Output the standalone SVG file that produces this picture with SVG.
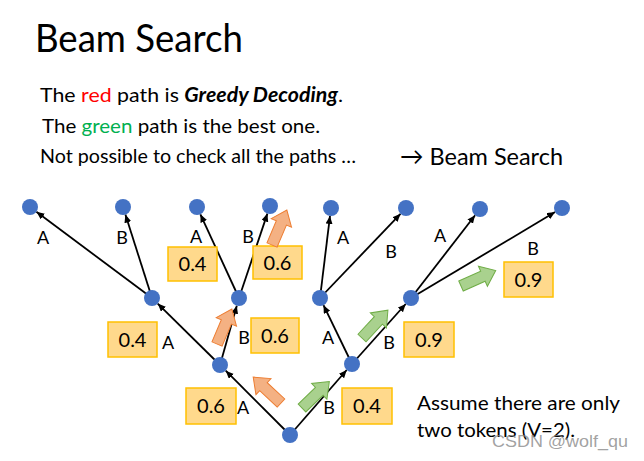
<svg xmlns="http://www.w3.org/2000/svg" width="644" height="461" viewBox="0 0 644 461">
<style>
.t{font-family:Lato,"Open Sans","Liberation Sans",sans-serif;fill:#000}
.lbl{font-family:Lato,"Open Sans","Liberation Sans",sans-serif;font-size:18px;fill:#000;text-anchor:middle}
.num{font-family:Lato,"Open Sans","Liberation Sans",sans-serif;font-size:20px;fill:#000;text-anchor:middle}
.box{fill:#FFD98C;stroke:#FFC000;stroke-width:1.5}
.node{fill:#4472C4}
.edge{stroke:#000;stroke-width:1.8;fill:none;marker-end:url(#ah)}
.orange{fill:#F4B183;stroke:#ED7D31;stroke-width:1}
.green{fill:#A9D18E;stroke:#70AD47;stroke-width:1}
</style>
<defs>
<marker id="ah" markerUnits="userSpaceOnUse" markerWidth="9" markerHeight="8" refX="8" refY="3.5" orient="auto">
<path d="M0,0 L8,3.5 L0,7 z" fill="#000"/>
</marker>
<path id="blk" d="M0,-5.5 H24 V-11 L38,0 L24,11 V5.5 H0 Z"/>
</defs>
<rect width="644" height="461" fill="#fff"/>
<g id="title">
<text class="t" x="35" y="52" font-size="38" textLength="208" lengthAdjust="spacingAndGlyphs">Beam Search</text>
</g>
<g id="desc">
<text class="t" x="40" y="102" font-size="20" textLength="303" lengthAdjust="spacingAndGlyphs">The <tspan fill="#FF0000">red</tspan> path is <tspan font-weight="bold" font-style="italic">Greedy Decoding</tspan>.</text>
<text class="t" x="42" y="133" font-size="20" textLength="278" lengthAdjust="spacingAndGlyphs">The <tspan fill="#00B050">green</tspan> path is the best one.</text>
<text class="t" x="40" y="163" font-size="20" textLength="316" lengthAdjust="spacingAndGlyphs">Not possible to check all the paths …</text>
<text class="t" x="400" y="165" font-size="24" textLength="163" lengthAdjust="spacingAndGlyphs">→ Beam Search</text>
</g>
<g id="connectors">
<line class="edge" x1="290" y1="435" x2="225.7" y2="370.7"/>
<line class="edge" x1="290" y1="435" x2="346.7" y2="370"/>
<line class="edge" x1="220" y1="365" x2="157.7" y2="303.6"/>
<line class="edge" x1="220" y1="365" x2="236.8" y2="305.7"/>
<line class="edge" x1="352" y1="364" x2="323.5" y2="305.2"/>
<line class="edge" x1="352" y1="364" x2="405.7" y2="304"/>
<line class="edge" x1="152" y1="298" x2="36.4" y2="211.8"/>
<line class="edge" x1="152" y1="298" x2="125.4" y2="214.6"/>
<line class="edge" x1="239" y1="298" x2="200.4" y2="214.3"/>
<line class="edge" x1="239" y1="298" x2="267.4" y2="213.6"/>
<line class="edge" x1="320" y1="298" x2="330" y2="215.9"/>
<line class="edge" x1="320" y1="298" x2="400.5" y2="213.8"/>
<line class="edge" x1="411" y1="298" x2="475.1" y2="215.3"/>
<line class="edge" x1="411" y1="298" x2="555.1" y2="212.1"/>
</g>
<g id="edge-labels">
<text class="lbl" x="43" y="244">A</text>
<text class="lbl" x="122" y="244">B</text>
<text class="lbl" x="196" y="243">A</text>
<text class="lbl" x="248" y="243">B</text>
<text class="lbl" x="343" y="244">A</text>
<text class="lbl" x="391" y="258">B</text>
<text class="lbl" x="440" y="242">A</text>
<text class="lbl" x="533" y="255">B</text>
<text class="lbl" x="168" y="349">A</text>
<text class="lbl" x="244" y="344">B</text>
<text class="lbl" x="328" y="344">A</text>
<text class="lbl" x="389" y="349">B</text>
<text class="lbl" x="243" y="414">A</text>
<text class="lbl" x="329" y="414">B</text>
</g>
<g id="scores">
<rect class="box" x="168" y="247" width="49" height="34"/><text class="num" x="192.5" y="271">0.4</text>
<rect class="box" x="253" y="246" width="49" height="33"/><text class="num" x="277.5" y="269.5">0.6</text>
<rect class="box" x="504" y="262" width="49" height="35"/><text class="num" x="528.5" y="286.5">0.9</text>
<rect class="box" x="108" y="322" width="49" height="35"/><text class="num" x="132.5" y="346.5">0.4</text>
<rect class="box" x="251" y="318" width="48" height="35"/><text class="num" x="275" y="342.5">0.6</text>
<rect class="box" x="404" y="322" width="50" height="35"/><text class="num" x="429" y="346.5">0.9</text>
<rect class="box" x="186" y="388" width="50" height="36"/><text class="num" x="211" y="413">0.6</text>
<rect class="box" x="342" y="388" width="50" height="36"/><text class="num" x="367" y="413">0.4</text>
</g>
<g id="block-arrows">
<use href="#blk" class="orange" transform="translate(272,245) rotate(-67)"/>
<use href="#blk" class="orange" transform="translate(217,344) rotate(-67)"/>
<use href="#blk" class="orange" transform="translate(281,403) rotate(-137)"/>
<use href="#blk" class="green" transform="translate(302,408) rotate(-44)"/>
<use href="#blk" class="green" transform="translate(362,338) rotate(-47)"/>
<use href="#blk" class="green" transform="translate(461,286) rotate(-24)"/>
</g>
<g id="n-root"><circle class="node" cx="290" cy="435" r="8"/></g>
<g id="n-A"><circle class="node" cx="220" cy="365" r="8"/></g>
<g id="n-B"><circle class="node" cx="352" cy="364" r="8"/></g>
<g id="n-AA"><circle class="node" cx="152" cy="298" r="8"/></g>
<g id="n-AB"><circle class="node" cx="239" cy="298" r="8"/></g>
<g id="n-BA"><circle class="node" cx="320" cy="298" r="8"/></g>
<g id="n-BB"><circle class="node" cx="411" cy="298" r="8"/></g>
<g id="n-AAA"><circle class="node" cx="30" cy="207" r="8"/></g>
<g id="n-AAB"><circle class="node" cx="123" cy="207" r="8"/></g>
<g id="n-ABA"><circle class="node" cx="197" cy="207" r="8"/></g>
<g id="n-ABB"><circle class="node" cx="270" cy="206" r="8"/></g>
<g id="n-BAA"><circle class="node" cx="331" cy="208" r="8"/></g>
<g id="n-BAB"><circle class="node" cx="406" cy="208" r="8"/></g>
<g id="n-BBA"><circle class="node" cx="480" cy="209" r="8"/></g>
<g id="n-BBB"><circle class="node" cx="562" cy="208" r="8"/></g>
<g id="note">
<text class="t" x="417" y="410" font-size="20" textLength="203" lengthAdjust="spacingAndGlyphs">Assume there are only</text>
<text class="t" x="417" y="437" font-size="20" textLength="158" lengthAdjust="spacingAndGlyphs">two tokens (V=2).</text>
</g>
<g id="watermark">
<text x="492" y="447" font-family="Liberation Sans,Arial,sans-serif" font-size="17" fill="#8a8a8a" fill-opacity="0.8" textLength="136" lengthAdjust="spacingAndGlyphs">CSDN @wolf_qu</text>
</g>
</svg>
